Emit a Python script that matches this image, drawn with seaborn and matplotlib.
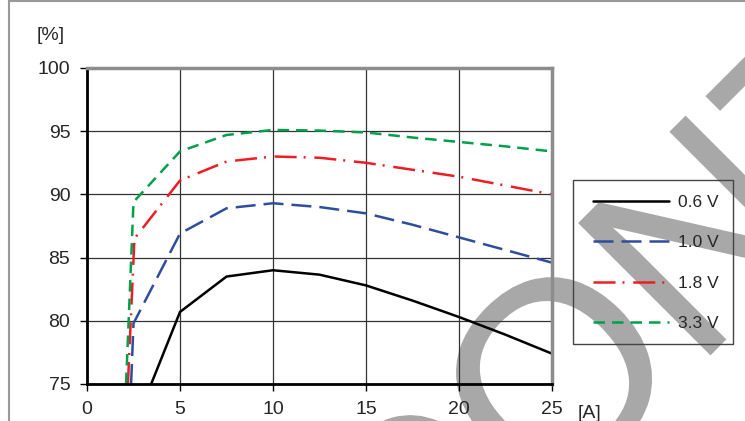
import matplotlib
matplotlib.use("Agg")
import matplotlib.pyplot as plt
import matplotlib.patches as patches
from matplotlib.textpath import TextPath
from matplotlib.font_manager import FontProperties
from matplotlib.transforms import Affine2D, IdentityTransform
import seaborn as sns
import pandas as pd

# Datos: eficiencia [%] vs corriente de salida [A]
x_06 = [3.45, 5, 7.5, 10, 12.5, 15, 17.5, 20, 22.5, 25]
y_06 = [75, 80.7, 83.5, 84.0, 83.65, 82.8, 81.6, 80.3, 78.9, 77.4]

x_10 = [2.37, 2.5, 5, 7.5, 10, 12.5, 15, 17.5, 20, 22.5, 25]
y_10 = [75, 79.8, 86.9, 88.9, 89.3, 89.0, 88.5, 87.6, 86.6, 85.6, 84.6]

x_18 = [2.2, 2.55, 5, 7.5, 10, 12.5, 15, 17.5, 20, 22.5, 25]
y_18 = [75, 86.5, 91.1, 92.6, 93.0, 92.9, 92.5, 91.95, 91.4, 90.7, 90.0]

x_33 = [2.1, 2.5, 5, 7.5, 10, 12.5, 15, 17.5, 20, 22.5, 25]
y_33 = [75, 89.4, 93.4, 94.7, 95.1, 95.05, 94.9, 94.5, 94.15, 93.8, 93.4]

labels = ["0.6 V", "1.0 V", "1.8 V", "3.3 V"]
x_ticks = [0, 5, 10, 15, 20, 25]
y_ticks = [75, 80, 85, 90, 95, 100]

series = [(x_06, y_06), (x_10, y_10), (x_18, y_18), (x_33, y_33)]
colors = ["#000000", "#2f4d9e", "#ee1d23", "#00a04b"]
styles = ["-", (0, (8, 3.2)), (0, (8.8, 2.8, 0.8, 3.5)), (0, (4.6, 2.8))]

sns.set_style("white")
plt.rcParams["font.family"] = ["Liberation Sans", "DejaVu Sans"]

fig = plt.figure(figsize=(7.45, 4.21), dpi=100)
W, H = 745, 421
ax = fig.add_axes([87 / W, 37 / H, 465 / W, 316 / H])
ax.set_facecolor("none")

# marca de agua de fondo (letras grandes giradas 45 grados, detras del grafico)
fp = FontProperties(family="Liberation Sans")
em = 272
wm_letras = ["C", "O", "N", "T"]
wm_centros = [(414, 516), (554.5, 375.5), (698, 235.5), (826, 108)]
for letra, (cx, cy) in zip(wm_letras, wm_centros):
    tp = TextPath((0, 0), letra, size=em, prop=fp)
    ext = tp.get_extents()
    tr = (Affine2D().translate(-(ext.x0 + ext.x1) / 2, -(ext.y0 + ext.y1) / 2)
          .rotate_deg(45).translate(cx, H - cy))
    fig.add_artist(patches.PathPatch(tr.transform_path(tp), transform=IdentityTransform(),
                                     facecolor="#a8a8a8", edgecolor="none", zorder=-5))

# marco exterior
fig.add_artist(patches.Rectangle((9 / W, -0.2), 1.2, 1.2 - 1 / H, transform=fig.transFigure,
                                 fill=False, edgecolor="#999999", lw=1.5, zorder=-4))

for (xs, ys), lab, col, ls in zip(series, labels, colors, styles):
    df = pd.DataFrame({"corriente": xs, "eficiencia": ys})
    sns.lineplot(data=df, x="corriente", y="eficiencia", ax=ax, color=col,
                 linestyle=ls, lw=1.8, label=lab, legend=False)

ax.set_xlim(0, 25)
ax.set_ylim(75, 100)
ax.set_xticks(x_ticks)
ax.set_yticks(y_ticks)
ax.set_xlabel("")
ax.set_ylabel("")
ax.grid(True, color="#333333", lw=0.9)
ax.set_axisbelow(True)
ax.tick_params(direction="out", length=5, width=1, color="black", labelsize=14,
               pad=7, left=True, bottom=True)

for s in ["top", "right"]:
    ax.spines[s].set_color("#8c8c8c")
    ax.spines[s].set_linewidth(2.5)
for s in ["left", "bottom"]:
    ax.spines[s].set_color("black")
    ax.spines[s].set_linewidth(2)

fig.text(51 / W, 1 - 35 / H, "[%]", ha="center", va="center", fontsize=14)
fig.text(578 / W, 1 - 413 / H, "[A]", ha="left", va="center", fontsize=14)

# leyenda con marco propio
fig.add_artist(patches.Rectangle((573 / W, 1 - 344 / H), 160 / W, 164 / H,
                                 transform=fig.transFigure, fill=False,
                                 edgecolor="#444444", lw=1))
handles, labs = ax.get_legend_handles_labels()
ax.legend(handles, labs, loc="upper left", bbox_to_anchor=(593 / W, 1 - 195 / H),
          bbox_transform=fig.transFigure, frameon=False, borderpad=0,
          borderaxespad=0, fontsize=12.5, handlelength=4.4, handletextpad=0.5,
          labelspacing=1.45)

fig.savefig("out.png", dpi=100)
